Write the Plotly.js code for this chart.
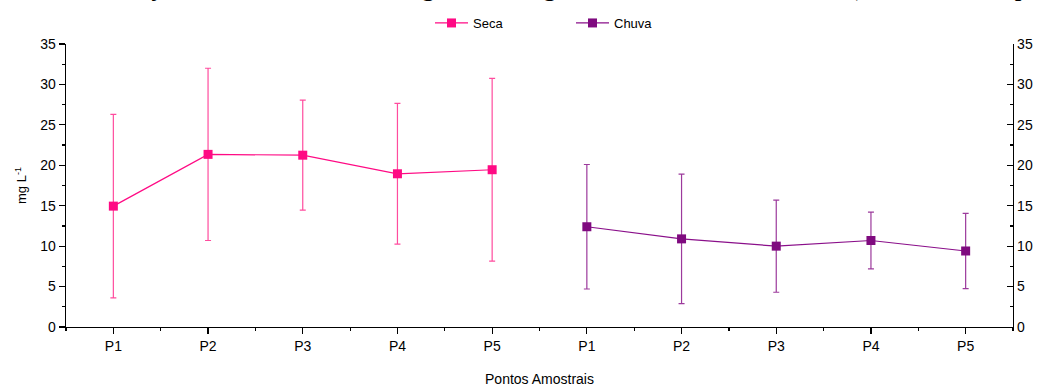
<!DOCTYPE html>
<html>
<head>
<meta charset="utf-8">
<script src="https://cdn.plot.ly/plotly-3.0.1.min.js"></script>
<style>
  html, body { margin: 0; padding: 0; background: #fff; }
  #chart { width: 1039px; height: 387px; }
</style>
</head>
<body>
<div id="chart"></div>
<script>
// Sampling points, repeated for the dry and the rainy season
const points = ['P1', 'P2', 'P3', 'P4', 'P5'];

// Dry season (Seca): mean and standard deviation, mg L-1
const secaMean = [14.95, 21.35, 21.25, 18.95, 19.45];
const secaSd   = [11.35, 10.65, 6.8, 8.7, 11.3];

// Rainy season (Chuva): mean and standard deviation, mg L-1
const chuvaMean = [12.4, 10.9, 10.0, 10.7, 9.4];
const chuvaSd   = [7.7, 8.0, 5.7, 3.5, 4.65];

const caption = 'Figura 33 – Variação sazonal da matéria orgânica na água dos Pontos Amostrados (média, desvio padrão)';

const xSeca = points.map((_, i) => i);
const xChuva = points.map((_, i) => i + points.length);
const allTicks = xSeca.concat(xChuva);
const allLabels = points.concat(points);

const font = 'Liberation Sans, Arial, sans-serif';
const W = 1039, H = 387;

const traces = [
  {
    x: xSeca, y: secaMean, name: 'Seca', type: 'scatter', mode: 'lines+markers',
    line: { color: '#FF0A84', width: 1.2 },
    marker: { symbol: 'square', size: 9, color: '#FF0A84' },
    error_y: { type: 'data', array: secaSd, visible: true, color: '#FF4C9E', thickness: 1.2, width: 3 }
  },
  {
    x: xChuva, y: chuvaMean, name: 'Chuva', type: 'scatter', mode: 'lines+markers',
    line: { color: '#8A0F8A', width: 1.2 },
    marker: { symbol: 'square', size: 9, color: '#7F0A7F' },
    error_y: { type: 'data', array: chuvaSd, visible: true, color: '#9C3A9C', thickness: 1.2, width: 3 }
  },
  {
    // carries the right-hand axis
    x: [allTicks[0]], y: [0], yaxis: 'y2', type: 'scatter', mode: 'markers',
    marker: { opacity: 0 }, showlegend: false, hoverinfo: 'skip'
  }
];

const yCommon = {
  range: [0, 35], tickvals: [0, 5, 10, 15, 20, 25, 30, 35],
  showline: true, linecolor: '#000', linewidth: 1.3,
  showgrid: false, zeroline: false,
  ticklen: 6, tickcolor: '#000', tickwidth: 1.2,
  tickfont: { family: font, size: 14, color: '#000' },
  minor: { tickmode: 'linear', tick0: 2.5, dtick: 5, ticklen: 3, tickcolor: '#000', tickwidth: 1.2, ticks: 'outside' }
};

const layout = {
  width: W, height: H,
  margin: { l: 66, r: 26, t: 44, b: 60 },
  paper_bgcolor: '#fff', plot_bgcolor: '#fff',
  font: { family: font, color: '#000' },
  showlegend: true,
  legend: {
    orientation: 'h', xref: 'container', yref: 'container',
    x: 430 / W, xanchor: 'left', y: 1 - 23 / H, yanchor: 'middle',
    font: { family: font, size: 13, color: '#000' },
    bgcolor: 'rgba(0,0,0,0)', entrywidth: 93, entrywidthmode: 'pixels',
    itemwidth: 33
  },
  xaxis: {
    range: [-0.5, 9.5], tickmode: 'array', tickvals: allTicks, ticktext: allLabels,
    showline: true, linecolor: '#000', linewidth: 1.3,
    showgrid: false, zeroline: false,
    ticks: 'outside', ticklen: 6, tickcolor: '#000', tickwidth: 1.2,
    tickfont: { family: font, size: 14, color: '#000' },
    minor: { tickmode: 'linear', tick0: 0.5, dtick: 1, ticklen: 3, tickcolor: '#000', tickwidth: 1.2, ticks: 'outside' },
    title: { text: 'Pontos Amostrais', font: { family: font, size: 14, color: '#000' }, standoff: 29 }
  },
  yaxis: Object.assign({}, yCommon, {
    side: 'left', ticks: 'outside',
    title: { text: 'mg L<sup>-1</sup>', font: { family: font, size: 13, color: '#000' }, standoff: 10 }
  }),
  yaxis2: Object.assign({}, yCommon, {
    overlaying: 'y', side: 'right', anchor: 'x', ticks: 'inside',
    minor: Object.assign({}, yCommon.minor, { ticks: 'inside' })
  }),
  annotations: [{
    text: caption, xref: 'paper', yref: 'paper', x: (528 - 66) / 947, y: 1,
    xanchor: 'center', yanchor: 'bottom', yshift: 41, showarrow: false,
    font: { family: 'Liberation Serif, Times New Roman, serif', size: 27, color: '#000' }
  }]
};

Plotly.newPlot('chart', traces, layout, { displayModeBar: false, staticPlot: true });
</script>
</body>
</html>
